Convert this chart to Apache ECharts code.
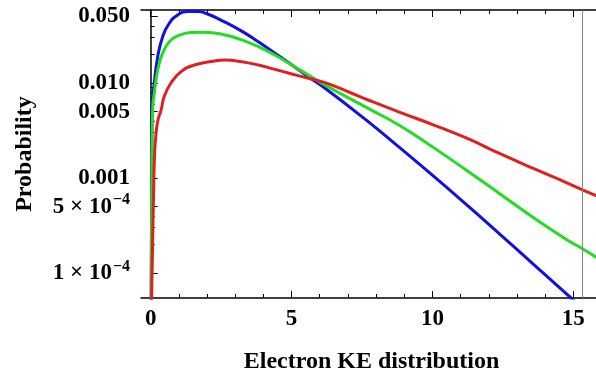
<!DOCTYPE html>
<html>
<head>
<meta charset="utf-8">
<script src="https://cdn.jsdelivr.net/npm/echarts@6/dist/echarts.min.js"></script>
<style>
    html, body { margin: 0; padding: 0; background: #fff; }
    #chart { width: 596px; height: 374px; }
</style>
</head>
<body>
<div id="chart"></div>
<script>
// electron KE (x) and probability (y)
const blueX = [0.015, 0.03, 0.05, 0.128, 0.25, 0.425, 0.66, 0.96, 1.31, 1.67, 2.02, 2.64, 3.23, 3.82, 4.41, 5.01, 5.59, 6.19, 7.72, 8.85, 10.03, 11.22, 12.4, 13.58, 14.77, 15.1]
const blueP = [3e-5, 6e-4, 5.2e-3, 0.0100, 0.0189, 0.0307, 0.0425, 0.052, 0.0564, 0.0564, 0.0532, 0.0437, 0.0351, 0.0272, 0.0206, 0.01545, 0.01165, 8.8e-3, 3.92e-3, 2.07e-3, 1.05e-3, 5.2e-4, 2.55e-4, 1.24e-4, 6.0e-5, 4.9e-5]

const greenX = [0.015, 0.035, 0.07, 0.128, 0.25, 0.425, 0.66, 0.96, 1.43, 1.9, 2.64, 3.23, 3.82, 4.41, 5.01, 5.59, 6.19, 7.72, 8.85, 10.03, 11.22, 12.4, 13.58, 14.77, 15.33, 16.1]
const greenP = [3e-5, 6e-4, 5.2e-3, 7.8e-3, 0.0137, 0.0206, 0.0272, 0.0313, 0.0339, 0.0342, 0.032, 0.0284, 0.0241, 0.0197, 0.01545, 0.01213, 9.5e-3, 5.4e-3, 3.55e-3, 2.1e-3, 1.2e-3, 6.8e-4, 3.84e-4, 2.24e-4, 1.8e-4, 1.29e-4]

const redX = [0.015, 0.06, 0.11, 0.14, 0.19, 0.26, 0.37, 0.48, 0.72, 1.08, 1.55, 2.26, 2.64, 3.23, 3.82, 4.41, 5.01, 5.59, 6.19, 7.07, 7.72, 8.85, 10.03, 11.22, 12.4, 13.58, 14.77, 15.33, 16.1]
const redP = [3e-5, 1.5e-4, 8.9e-4, 1.8e-3, 2.95e-3, 4.1e-3, 5.2e-3, 7.2e-3, 0.0100, 0.01315, 0.01545, 0.01705, 0.01745, 0.01675, 0.01545, 0.0139, 0.01245, 0.0112, 0.01007, 7.94e-3, 6.62e-3, 4.9e-3, 3.63e-3, 2.62e-3, 1.8e-3, 1.26e-3, 8.9e-4, 7.5e-4, 6.0e-4]

const markerX = 15.33

const xMajorTicks = [0, 5, 10, 15]
const xMinorTicks = [1, 2, 3, 4, 6, 7, 8, 9, 11, 12, 13, 14]
const yMajorTicks = [0.05, 0.01, 0.005, 0.001, 5e-4, 1e-4]
const yMajorLabels = ['0.050', '0.010', '0.005', '0.001', '{a|5 × 10}{s|−4}', '{a|1 × 10}{s|−4}']
const yMinorTicks = [0.04, 0.03, 0.02, 0.009, 0.008, 0.007, 0.006, 0.004, 0.003, 0.002,
    9e-4, 8e-4, 7e-4, 6e-4, 4e-4, 3e-4, 2e-4]

const font = 'Liberation Serif'
const lg = v => Math.log10(v)
const toPairs = (xs, ps) => xs.map((x, i) => [x, lg(ps[i])])

const xMin = -0.344
const xMax = 16.02
const yMin = -4.263
const yMax = -1.232

const chart = echarts.init(document.getElementById('chart'))

const frameLine = { show: true, lineStyle: { color: '#000', width: 1.5 } }
const gridBox = { left: 141, top: 10, right: -6, bottom: 76, outerBoundsMode: 'none' }

const option = {
    backgroundColor: '#fff',
    animation: false,
    grid: [gridBox, gridBox],
    xAxis: [
        {
            gridIndex: 0,
            type: 'value',
            position: 'bottom',
            min: xMin,
            max: xMax,
            axisLine: frameLine,
            axisTick: { inside: true, length: 7, customValues: xMajorTicks, lineStyle: { color: '#000' } },
            axisLabel: {
                customValues: xMajorTicks,
                margin: 10,
                color: '#000',
                fontFamily: font,
                fontWeight: 'bold',
                fontSize: 23
            },
            splitLine: { show: false },
            name: 'Electron KE distribution',
            nameLocation: 'middle',
            nameGap: 52,
            nameTextStyle: { color: '#000', fontFamily: font, fontWeight: 'bold', fontSize: 24 }
        },
        {
            gridIndex: 0,
            type: 'value',
            position: 'top',
            min: xMin,
            max: xMax,
            axisLine: frameLine,
            axisTick: { inside: true, length: 7, customValues: xMajorTicks, lineStyle: { color: '#000' } },
            axisLabel: { show: false },
            splitLine: { show: false }
        },
        {
            gridIndex: 1,
            type: 'value',
            position: 'bottom',
            min: xMin,
            max: xMax,
            axisLine: { show: false },
            axisTick: { inside: true, length: 4, customValues: xMinorTicks, lineStyle: { color: '#000' } },
            axisLabel: { show: false },
            splitLine: { show: false }
        },
        {
            gridIndex: 1,
            type: 'value',
            position: 'top',
            min: xMin,
            max: xMax,
            axisLine: { show: false },
            axisTick: { inside: true, length: 4, customValues: xMinorTicks, lineStyle: { color: '#000' } },
            axisLabel: { show: false },
            splitLine: { show: false }
        }
    ],
    yAxis: [
        {
            gridIndex: 0,
            type: 'value',
            position: 'left',
            min: yMin,
            max: yMax,
            axisLine: frameLine,
            axisTick: { inside: true, length: 7, customValues: yMajorTicks.map(lg), lineStyle: { color: '#000' } },
            axisLabel: {
                customValues: yMajorTicks.map(lg),
                margin: 11,
                color: '#000',
                fontFamily: font,
                fontWeight: 'bold',
                fontSize: 23,
                formatter: function (v) {
                    let best = 0
                    yMajorTicks.forEach((t, i) => {
                        if (Math.abs(lg(t) - v) < Math.abs(lg(yMajorTicks[best]) - v)) best = i
                    })
                    return yMajorLabels[best]
                },
                rich: {
                    a: { color: '#000', fontFamily: font, fontWeight: 'bold', fontSize: 23 },
                    s: { color: '#000', fontFamily: font, fontWeight: 'bold', fontSize: 16, padding: [0, 0, 13, 1] }
                }
            },
            splitLine: { show: false },
            name: 'Probability',
            nameLocation: 'middle',
            nameGap: 104,
            nameTextStyle: { color: '#000', fontFamily: font, fontWeight: 'bold', fontSize: 24 }
        },
        {
            gridIndex: 1,
            type: 'value',
            position: 'left',
            min: yMin,
            max: yMax,
            axisLine: { show: false },
            axisTick: { inside: true, length: 4, customValues: yMinorTicks.map(lg), lineStyle: { color: '#000' } },
            axisLabel: { show: false },
            splitLine: { show: false }
        }
    ],
    series: [
        {
            name: 'blue',
            type: 'line',
            xAxisIndex: 0,
            yAxisIndex: 0,
            data: toPairs(blueX, blueP),
            smooth: 0.5,
            showSymbol: false,
            lineStyle: { color: '#1010e0', width: 3 },
            markLine: {
                silent: true,
                symbol: 'none',
                label: { show: false },
                lineStyle: { color: '#888', width: 1, type: 'solid' },
                data: [{ xAxis: markerX }]
            }
        },
        {
            name: 'green',
            type: 'line',
            xAxisIndex: 0,
            yAxisIndex: 0,
            data: toPairs(greenX, greenP),
            smooth: 0.5,
            showSymbol: false,
            lineStyle: { color: '#22dd22', width: 3 }
        },
        {
            name: 'red',
            type: 'line',
            xAxisIndex: 0,
            yAxisIndex: 0,
            data: toPairs(redX, redP),
            smooth: 0.5,
            showSymbol: false,
            lineStyle: { color: '#e02020', width: 3 }
        }
    ]
}

chart.setOption(option)
</script>
</body>
</html>
